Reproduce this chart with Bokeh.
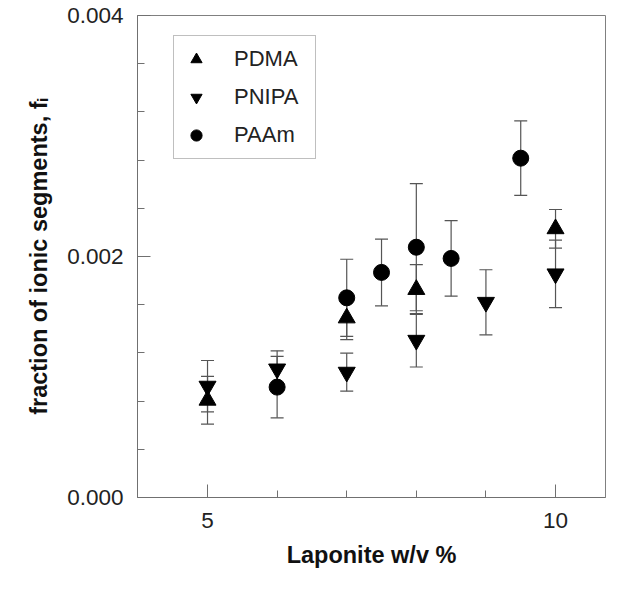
from bokeh.plotting import figure
from bokeh.models import (ColumnDataSource, Whisker, TeeHead, FixedTicker, Range1d,
                          Legend, LegendItem)
from bokeh.embed import file_html
from bokeh.resources import INLINE

# ---- data ----
pdma_x = [5, 7, 8, 10]
pdma_y = [0.000807, 0.00149, 0.001726, 0.00223]
pdma_err = [0.000198, 0.00018, 0.000206, 0.00016]

pnipa_x = [5, 6, 7, 8, 9, 10]
pnipa_y = [0.000924, 0.001067, 0.00104, 0.001305, 0.00162, 0.001856]
pnipa_err = [0.000213, 0.00015, 0.000158, 0.000222, 0.00027, 0.00028]

paam_x = [6, 7, 7.5, 8, 8.5, 9.5]
paam_y = [0.000916, 0.001657, 0.001868, 0.002077, 0.001984, 0.002816]
paam_err = [0.000255, 0.00032, 0.000277, 0.000527, 0.000313, 0.000309]

x_ticks = [5, 10]
x_minor = [6, 7, 8, 9]
y_ticks = [0.000, 0.002, 0.004]
y_tick_labels = ["0.000", "0.002", "0.004"]
y_minor = [0.0004, 0.0008, 0.0012, 0.0016, 0.0024, 0.0028, 0.0032, 0.0036]

FONT = "Liberation Sans"
AX = "#707070"
ERR = "#555555"

p = figure(width=607, height=577, output_backend="svg", toolbar_location=None,
           x_range=Range1d(3.994, 10.718), y_range=Range1d(0, 0.004),
           min_border_left=137, min_border_top=15, min_border_right=2, min_border_bottom=80)
p.xgrid.visible = False
p.ygrid.visible = False
p.outline_line_color = "#808080"
p.outline_line_width = 1
p.background_fill_color = "white"
p.border_fill_color = "white"

for ax in (p.xaxis[0], p.yaxis[0]):
    ax.axis_line_color = AX
    ax.major_tick_line_color = AX
    ax.minor_tick_line_color = AX
    ax.major_tick_in = 13
    ax.major_tick_out = 0
    ax.minor_tick_in = 7
    ax.minor_tick_out = 0
    ax.major_label_text_font = FONT
    ax.major_label_text_font_size = "22.5px"
    ax.major_label_text_color = "#222222"
    ax.axis_label_text_font = FONT
    ax.axis_label_text_font_size = "23.5px"
    ax.axis_label_text_font_style = "bold"
    ax.axis_label_text_color = "#111111"

p.xaxis.ticker = FixedTicker(ticks=x_ticks, minor_ticks=x_minor)
p.yaxis.ticker = FixedTicker(ticks=y_ticks, minor_ticks=y_minor)
p.yaxis.major_label_overrides = {t: l for t, l in zip(y_ticks, y_tick_labels)}
p.xaxis.major_label_standoff = 15
p.yaxis.major_label_standoff = 14
p.xaxis.axis_label = "Laponite w/v %"
p.yaxis.axis_label = "fraction of ionic segments, f\u1d62"
p.xaxis.axis_label_standoff = 11
p.yaxis.axis_label_standoff = 12

def add_series(xs, ys, errs):
    src = ColumnDataSource(dict(x=xs, y=ys,
                                upper=[a + b for a, b in zip(ys, errs)],
                                lower=[a - b for a, b in zip(ys, errs)]))
    w = Whisker(source=src, base="x", upper="upper", lower="lower",
                line_color=ERR, line_width=1.2, level="underlay",
                upper_head=TeeHead(size=13, line_color=ERR, line_width=1.2),
                lower_head=TeeHead(size=13, line_color=ERR, line_width=1.2))
    p.add_layout(w)
    return src

s1 = add_series(pdma_x, pdma_y, pdma_err)
s2 = add_series(pnipa_x, pnipa_y, pnipa_err)
s3 = add_series(paam_x, paam_y, paam_err)

r1 = p.scatter("x", "y", source=s1, marker="triangle", size=17, color="black")
r2 = p.scatter("x", "y", source=s2, marker="inverted_triangle", size=17, color="black")
r3 = p.scatter("x", "y", source=s3, marker="circle", size=16, color="black")

legend = Legend(items=[LegendItem(label="PDMA", renderers=[r1]),
                       LegendItem(label="PNIPA", renderers=[r2]),
                       LegendItem(label="PAAm", renderers=[r3])],
                location=(36, 338), orientation="vertical",
                border_line_color="#808080", border_line_width=1,
                background_fill_color="white", background_fill_alpha=1,
                padding=8, spacing=8, margin=0,
                glyph_height=30, glyph_width=28, label_height=30, label_width=73,
                label_standoff=24,
                label_text_font=FONT, label_text_font_size="22px",
                label_text_color="#222222")
p.add_layout(legend, "center")

open("out.html", "w").write(file_html(p, INLINE))
